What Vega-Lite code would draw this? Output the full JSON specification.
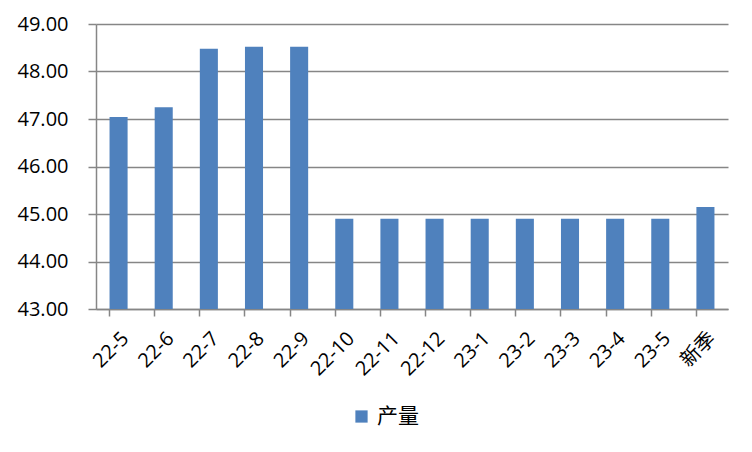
{
  "$schema": "https://vega.github.io/schema/vega-lite/v6.json",
  "autosize": {"type": "none"},
  "width": 632,
  "height": 285,
  "padding": {"left": 96, "top": 24, "right": 24, "bottom": 143},
  "background": "white",
  "data": {
    "values": [
      {"月份": "22-5", "产量": 47.04, "系列": "产量"},
      {"月份": "22-6", "产量": 47.25, "系列": "产量"},
      {"月份": "22-7", "产量": 48.48, "系列": "产量"},
      {"月份": "22-8", "产量": 48.52, "系列": "产量"},
      {"月份": "22-9", "产量": 48.52, "系列": "产量"},
      {"月份": "22-10", "产量": 44.9, "系列": "产量"},
      {"月份": "22-11", "产量": 44.9, "系列": "产量"},
      {"月份": "22-12", "产量": 44.9, "系列": "产量"},
      {"月份": "23-1", "产量": 44.9, "系列": "产量"},
      {"月份": "23-2", "产量": 44.9, "系列": "产量"},
      {"月份": "23-3", "产量": 44.9, "系列": "产量"},
      {"月份": "23-4", "产量": 44.9, "系列": "产量"},
      {"月份": "23-5", "产量": 44.9, "系列": "产量"},
      {"月份": "新季", "产量": 45.15, "系列": "产量"}
    ]
  },
  "mark": {"type": "bar", "clip": true},
  "encoding": {
    "x": {
      "field": "月份",
      "type": "nominal",
      "sort": null,
      "scale": {"paddingInner": 0.6, "paddingOuter": 0.3},
      "axis": {
        "title": null,
        "labelAngle": -45,
        "labelFontSize": 20,
        "labelColor": "#000000",
        "labelFont": "Open Sans, Noto Sans CJK SC",
        "labelPadding": 12,
        "tickSize": 7,
        "tickColor": "#868686",
        "tickWidth": 1.5,
        "domainColor": "#868686",
        "domainWidth": 1.5,
        "bandPosition": 0
      }
    },
    "y": {
      "field": "产量",
      "type": "quantitative",
      "scale": {"domain": [43, 49], "nice": false, "zero": false},
      "axis": {
        "title": null,
        "values": [43, 44, 45, 46, 47, 48, 49],
        "format": ".2f",
        "labelFontSize": 20,
        "labelColor": "#000000",
        "labelFont": "Open Sans",
        "labelPadding": 20,
        "tickSize": 8,
        "tickColor": "#868686",
        "tickWidth": 1.5,
        "domainColor": "#868686",
        "domainWidth": 1.5,
        "grid": true,
        "gridColor": "#868686",
        "gridWidth": 1.5
      }
    },
    "color": {
      "field": "系列",
      "type": "nominal",
      "scale": {"range": ["#4F81BD"]},
      "legend": {
        "title": null,
        "orient": "none",
        "legendX": 255,
        "legendY": 382,
        "symbolType": "square",
        "symbolSize": 150,
        "symbolStrokeWidth": 0,
        "labelFontSize": 21,
        "labelFont": "Noto Sans CJK SC",
        "labelColor": "#000000",
        "labelOffset": 5
      }
    }
  },
  "config": {
    "view": {"stroke": null}
  }
}
